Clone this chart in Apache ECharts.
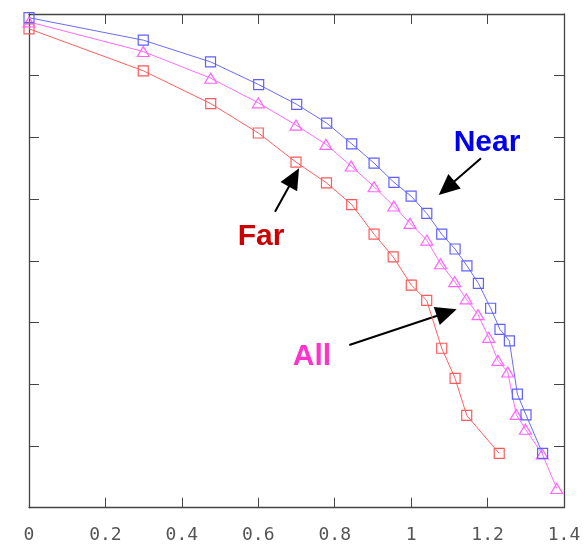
<!DOCTYPE html>
<html>
<head>
<meta charset="utf-8">
<script src="https://cdn.jsdelivr.net/npm/echarts@6/dist/echarts.min.js"></script>
<style>html,body{margin:0;padding:0;background:#fff}#c{width:586px;height:546px}</style>
</head>
<body>
<div id="c"></div>
<script>
var xTickLabels = ['0','0.2','0.4','0.6','0.8','1','1.2','1.4'];

var nearX = [0, 0.299, 0.475, 0.601, 0.7005, 0.779, 0.8445, 0.903, 0.955, 1.0, 1.041, 1.080, 1.115, 1.146, 1.176, 1.208, 1.2325, 1.257, 1.278, 1.3006, 1.344];
var nearY = [0.9925, 0.947, 0.903, 0.857, 0.817, 0.779, 0.737, 0.698, 0.659, 0.631, 0.596, 0.554, 0.524, 0.490, 0.4545, 0.404, 0.361, 0.338, 0.230, 0.188, 0.110];

var allX = [0, 0.299, 0.4755, 0.600, 0.6987, 0.777, 0.843, 0.903, 0.9546, 0.997, 1.041, 1.077, 1.114, 1.144, 1.175, 1.203, 1.227, 1.2527, 1.275, 1.299, 1.343, 1.381];
var allY = [0.984, 0.924, 0.870, 0.820, 0.775, 0.736, 0.692, 0.650, 0.611, 0.576, 0.542, 0.494, 0.458, 0.423, 0.391, 0.345, 0.2985, 0.275, 0.189, 0.159, 0.109, 0.039];

var farX = [0, 0.299, 0.4755, 0.600, 0.6987, 0.7785, 0.8445, 0.903, 0.953, 1.0004, 1.0407, 1.080, 1.115, 1.1454, 1.2305];
var farY = [0.970, 0.885, 0.8185, 0.759, 0.700, 0.658, 0.614, 0.554, 0.508, 0.451, 0.420, 0.323, 0.262, 0.187, 0.110];

// annotations in data coordinates
var labelNames = ['Near', 'Far', 'All'];
var labelColors = ['#0000ee', '#cc0000', '#ff33cc'];
var labelPos = [[1.1985, 0.7386], [0.6071, 0.5483], [0.7406, 0.3063]];
var arrowStart = [[1.1828, 0.7077], [0.6437, 0.5996], [0.8382, 0.3296]];
var arrowTip = [[1.0721, 0.6334], [0.7066, 0.6875], [1.1192, 0.4019]];

function zip(a, b) { return a.map(function (v, i) { return [v, b[i]]; }); }

var chart = echarts.init(document.getElementById('c'), null, {renderer: 'canvas'});
var frame = '#444';
var tickStyle = {show: true, inside: true, length: 10, lineStyle: {color: frame, width: 1}};
var lineSt = {show: true, onZero: false, lineStyle: {color: frame, width: 1.3}};
var option = {
  animation: false,
  backgroundColor: '#fff',
  grid: {left: 29, right: 22, top: 14, bottom: 38.3},
  xAxis: [{
    type: 'value', min: 0, max: 1.4, interval: 0.2, position: 'bottom',
    axisLine: lineSt,
    axisTick: tickStyle,
    splitLine: {show: false},
    axisLabel: {
      margin: 19, color: '#555', fontFamily: 'DejaVu Sans Mono', fontSize: 18,
      formatter: function (v) { return xTickLabels[Math.round(v / 0.2)]; }
    }
  }, {
    type: 'value', min: 0, max: 1.4, interval: 0.2, position: 'top',
    axisLine: lineSt,
    axisTick: tickStyle, axisLabel: {show: false}, splitLine: {show: false}
  }],
  yAxis: [{
    type: 'value', min: 0, max: 1, interval: 0.125, position: 'left',
    axisLine: lineSt,
    axisTick: tickStyle, axisLabel: {show: false}, splitLine: {show: false}
  }, {
    type: 'value', min: 0, max: 1, interval: 0.125, position: 'right',
    axisLine: lineSt,
    axisTick: tickStyle, axisLabel: {show: false}, splitLine: {show: false}
  }],
  series: [{
    name: 'Far', type: 'line', data: zip(farX, farY),
    symbol: 'rect', symbolSize: 10,
    lineStyle: {color: '#ff6060', width: 1},
    itemStyle: {color: 'rgba(0,0,0,0)', borderColor: '#ff5a5a', borderWidth: 1.2}
  }, {
    name: 'All', type: 'line', data: zip(allX, allY),
    symbol: 'triangle', symbolSize: [12, 10],
    lineStyle: {color: '#ff6cff', width: 1},
    itemStyle: {color: 'rgba(0,0,0,0)', borderColor: '#ff66ff', borderWidth: 1.2}
  }, {
    name: 'Near', type: 'line', data: zip(nearX, nearY),
    symbol: 'rect', symbolSize: 10,
    lineStyle: {color: '#6a6aff', width: 1},
    itemStyle: {color: 'rgba(0,0,0,0)', borderColor: '#6060ff', borderWidth: 1.2}
  }]
};
chart.setOption(option);

var g = [];
for (var i = 0; i < labelNames.length; i++) {
  var p = chart.convertToPixel({gridIndex: 0}, labelPos[i]);
  g.push({type: 'text', x: p[0], y: p[1], style: {
    text: labelNames[i], fill: labelColors[i], font: 'bold 30px "Liberation Sans", Arial, sans-serif',
    align: 'center', verticalAlign: 'middle'}});
  var s = chart.convertToPixel({gridIndex: 0}, arrowStart[i]);
  var t = chart.convertToPixel({gridIndex: 0}, arrowTip[i]);
  var dx = t[0] - s[0], dy = t[1] - s[1];
  var L = Math.sqrt(dx * dx + dy * dy);
  var ux = dx / L, uy = dy / L;
  var hl = 21, hw = 9.5;
  var bx = t[0] - ux * hl, by = t[1] - uy * hl;
  g.push({type: 'line', shape: {x1: s[0], y1: s[1], x2: bx + ux * 2, y2: by + uy * 2},
    style: {stroke: '#000', lineWidth: 2}});
  g.push({type: 'polygon', shape: {points: [[t[0], t[1]], [bx - uy * hw, by + ux * hw], [bx + uy * hw, by - ux * hw]]},
    style: {fill: '#000'}});
}
chart.setOption({graphic: g});
</script>
</body>
</html>
